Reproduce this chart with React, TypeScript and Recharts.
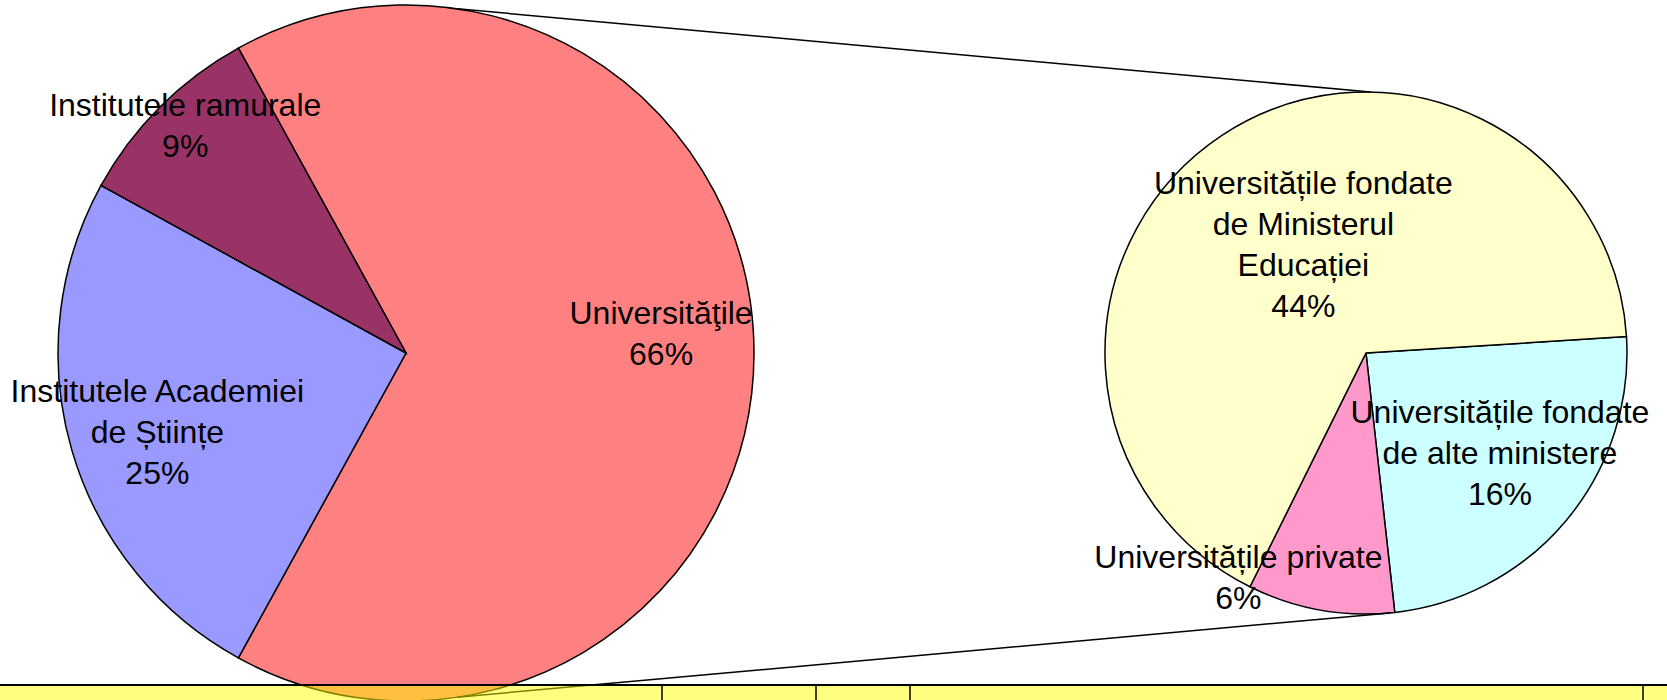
import { PieChart, Pie, Cell } from "recharts";

// main pie
const mainNames = ["Universităţile", "Institutele Academiei de Științe", "Institutele ramurale"];
const mainValues = [66, 25, 9];
const mainLabelLines = [["Universităţile"], ["Institutele Academiei", "de Științe"], ["Institutele ramurale"]];

// secondary pie (split of Universităţile)
const subNames = [
  "Universitățile fondate de alte ministere",
  "Universitățile private",
  "Universitățile fondate de Ministerul Educației",
];
const subValues = [16, 6, 44];
const subLabelLines = [
  ["Universitățile fondate", "de alte ministere"],
  ["Universitățile private"],
  ["Universitățile fondate", "de Ministerul", "Educației"],
];

const mainColors = ["#FF8080", "#9999FF", "#993366"];
const subColors = ["#CCFFFF", "#FF99CC", "#FFFFCC"];

const W = 1667;
const H = 700;
const FONT = "'Liberation Sans', Arial, sans-serif";
const FONT_SIZE = 32;
const LINE_H = 41;

const MAIN = { cx: 406, cy: 353, r: 348, start: 118.8 };
const SUB = { cx: 1366, cy: 353, r: 261, start: 3.6 };

// label placement: [radius fraction, angle in degrees]
const mainLabelPos = [[0.735, 4.3], [0.75, -162.3], [0.91, 134.2]];
const subLabelPos = [[0.64, -36.7], [0.99, -119.6], [0.48, 120]];

const RAD = Math.PI / 180;
const polar = (cx: number, cy: number, r: number, a: number) => ({
  x: cx + r * Math.cos(a * RAD),
  y: cy - r * Math.sin(a * RAD),
});

const mainData = mainNames.map((name, i) => ({ name, value: mainValues[i] }));
const subData = subNames.map((name, i) => ({ name, value: subValues[i] }));

function makeLabel(
  geo: { cx: number; cy: number; r: number },
  lines: string[][],
  pos: number[][],
  values: number[]
) {
  return (props: any) => {
    const i = props.index;
    const p = polar(geo.cx, geo.cy, geo.r * pos[i][0], pos[i][1]);
    const all = [...lines[i], `${values[i]}%`];
    const top = p.y - ((all.length - 1) * LINE_H) / 2;
    return (
      <g key={`lbl-${i}`}>
        {all.map((t, k) => (
          <text
            key={k}
            x={p.x}
            y={top + k * LINE_H}
            textAnchor="middle"
            dominantBaseline="central"
            fontFamily={FONT}
            fontSize={FONT_SIZE}
            fill="#000"
          >
            {t}
          </text>
        ))}
      </g>
    );
  };
}

export default function App() {
  const lt = polar(MAIN.cx, MAIN.cy, MAIN.r, 81.5);
  const lb = polar(MAIN.cx, MAIN.cy, MAIN.r, -81.5);
  const rt = polar(SUB.cx, SUB.cy, SUB.r, 89);
  const rb = polar(SUB.cx, SUB.cy, SUB.r, -84.7);
  const cellLines = [662, 816, 910, 1643];

  return (
    <div style={{ position: "relative", width: W, height: H, background: "#fff", overflow: "hidden" }}>
      <style>{`body{margin:0}`}</style>
      <PieChart width={W} height={H} margin={{ top: 0, right: 0, bottom: 0, left: 0 }}>
        <Pie
          data={mainData}
          dataKey="value"
          nameKey="name"
          cx={MAIN.cx}
          cy={MAIN.cy}
          outerRadius={MAIN.r}
          startAngle={MAIN.start}
          endAngle={MAIN.start - 360}
          stroke="#000"
          strokeWidth={1.5}
          label={makeLabel(MAIN, mainLabelLines, mainLabelPos, mainValues)}
          labelLine={false}
          isAnimationActive={false}
        >
          {mainData.map((d, i) => (
            <Cell key={d.name} fill={mainColors[i]} />
          ))}
        </Pie>
        <Pie
          data={subData}
          dataKey="value"
          nameKey="name"
          cx={SUB.cx}
          cy={SUB.cy}
          outerRadius={SUB.r}
          startAngle={SUB.start}
          endAngle={SUB.start - 360}
          stroke="#000"
          strokeWidth={1.5}
          label={makeLabel(SUB, subLabelLines, subLabelPos, subValues)}
          labelLine={false}
          isAnimationActive={false}
        >
          {subData.map((d, i) => (
            <Cell key={d.name} fill={subColors[i]} />
          ))}
        </Pie>
      </PieChart>
      <svg
        width={W}
        height={H}
        style={{ position: "absolute", left: 0, top: 0, pointerEvents: "none" }}
      >
        <line x1={lt.x} y1={lt.y} x2={rt.x} y2={rt.y} stroke="#000" strokeWidth={1.5} />
        <line x1={lb.x} y1={lb.y} x2={rb.x} y2={rb.y} stroke="#000" strokeWidth={1.5} />
        <rect x={0} y={686} width={W} height={H - 686} fill="#FFFF00" fillOpacity={0.5} />
        <line x1={0} y1={685} x2={W} y2={685} stroke="#000" strokeWidth={2} />
        {cellLines.map((x) => (
          <line key={x} x1={x} y1={685} x2={x} y2={H} stroke="#000" strokeWidth={1.5} />
        ))}
      </svg>
    </div>
  );
}
